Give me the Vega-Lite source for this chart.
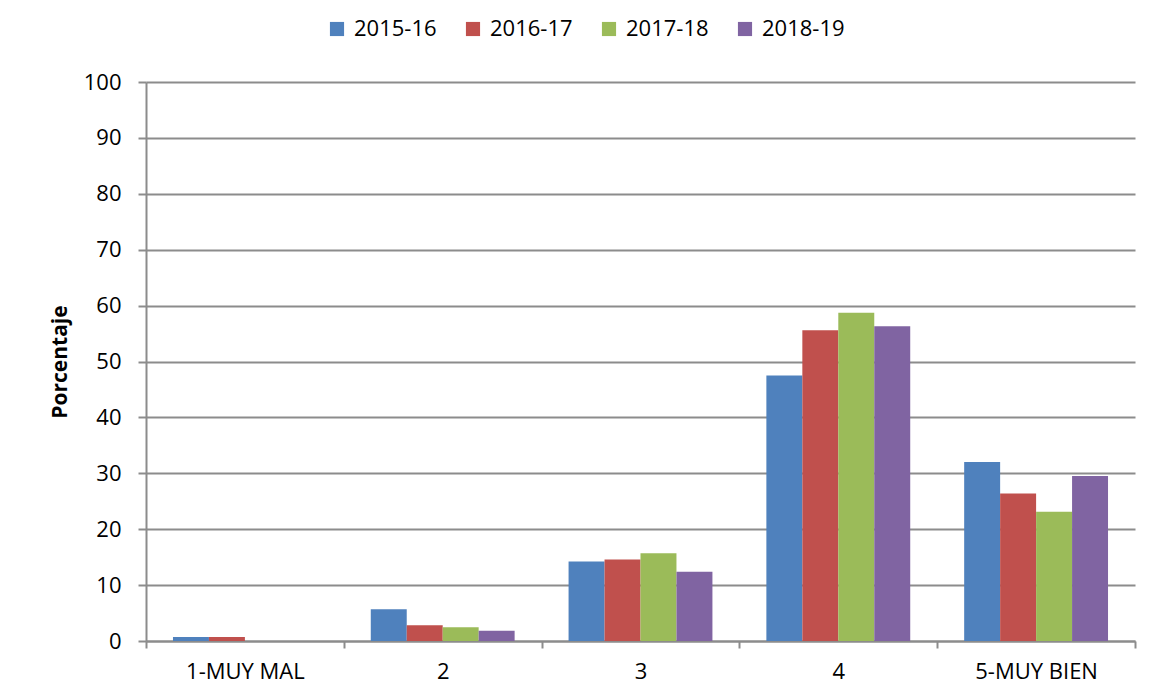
{
  "$schema": "https://vega.github.io/schema/vega-lite/v6.json",
  "width": 989,
  "height": 559,
  "autosize": {"type": "none"},
  "padding": {"left": 146, "top": 82, "right": 17, "bottom": 59},
  "background": "white",
  "config": {
    "font": "Open Sans",
    "view": {"stroke": null},
    "axis": {"labelFont": "Open Sans", "titleFont": "Open Sans"},
    "legend": {"labelFont": "Open Sans"}
  },
  "data": {
    "values": [
      {"cat": "1-MUY MAL", "curso": "2015-16", "pct": 0.7},
      {"cat": "1-MUY MAL", "curso": "2016-17", "pct": 0.7},
      {"cat": "1-MUY MAL", "curso": "2017-18", "pct": 0},
      {"cat": "1-MUY MAL", "curso": "2018-19", "pct": 0},
      {"cat": "2", "curso": "2015-16", "pct": 5.7},
      {"cat": "2", "curso": "2016-17", "pct": 2.8},
      {"cat": "2", "curso": "2017-18", "pct": 2.45},
      {"cat": "2", "curso": "2018-19", "pct": 1.85},
      {"cat": "3", "curso": "2015-16", "pct": 14.2},
      {"cat": "3", "curso": "2016-17", "pct": 14.6},
      {"cat": "3", "curso": "2017-18", "pct": 15.7},
      {"cat": "3", "curso": "2018-19", "pct": 12.4},
      {"cat": "4", "curso": "2015-16", "pct": 47.5},
      {"cat": "4", "curso": "2016-17", "pct": 55.6},
      {"cat": "4", "curso": "2017-18", "pct": 58.7},
      {"cat": "4", "curso": "2018-19", "pct": 56.3},
      {"cat": "5-MUY BIEN", "curso": "2015-16", "pct": 32.0},
      {"cat": "5-MUY BIEN", "curso": "2016-17", "pct": 26.4},
      {"cat": "5-MUY BIEN", "curso": "2017-18", "pct": 23.1},
      {"cat": "5-MUY BIEN", "curso": "2018-19", "pct": 29.5}
    ]
  },
  "mark": {"type": "bar"},
  "encoding": {
    "x": {
      "field": "cat",
      "type": "nominal",
      "sort": null,
      "scale": {"paddingInner": 0, "paddingOuter": 0},
      "axis": {
        "title": null,
        "labelAngle": 0,
        "labelFontSize": 22,
        "labelColor": "black",
        "labelPadding": 13,
        "tickBand": "extent",
        "tickSize": 7,
        "tickColor": "#8c8c8c",
        "tickWidth": 2,
        "domainColor": "#8c8c8c",
        "domainWidth": 2
      }
    },
    "xOffset": {"field": "curso", "type": "nominal", "scale": {"paddingInner": 0, "paddingOuter": 0.75}},
    "y": {
      "field": "pct",
      "type": "quantitative",
      "scale": {"domain": [0, 100]},
      "axis": {
        "title": "Porcentaje",
        "titleFontSize": 21,
        "titleFontWeight": "bold",
        "titleColor": "black",
        "titlePadding": 13,
        "values": [0, 10, 20, 30, 40, 50, 60, 70, 80, 90, 100],
        "labelFontSize": 22,
        "labelColor": "black",
        "labelPadding": 17,
        "tickSize": 8,
        "tickColor": "#8c8c8c",
        "tickWidth": 2,
        "domainColor": "#8c8c8c",
        "domainWidth": 2,
        "grid": true,
        "gridColor": "#8c8c8c",
        "gridWidth": 2
      }
    },
    "color": {
      "field": "curso",
      "type": "nominal",
      "scale": {
        "domain": ["2015-16", "2016-17", "2017-18", "2018-19"],
        "range": ["#4F81BD", "#C0504D", "#9BBB59", "#8064A2"]
      },
      "legend": {
        "title": null,
        "orient": "none",
        "direction": "horizontal",
        "legendX": 180,
        "legendY": -64,
        "symbolType": "square",
        "symbolSize": 200,
        "symbolStrokeWidth": 0,
        "labelFontSize": 22,
        "labelColor": "black",
        "labelOffset": 6,
        "columnPadding": 25
      }
    }
  }
}
